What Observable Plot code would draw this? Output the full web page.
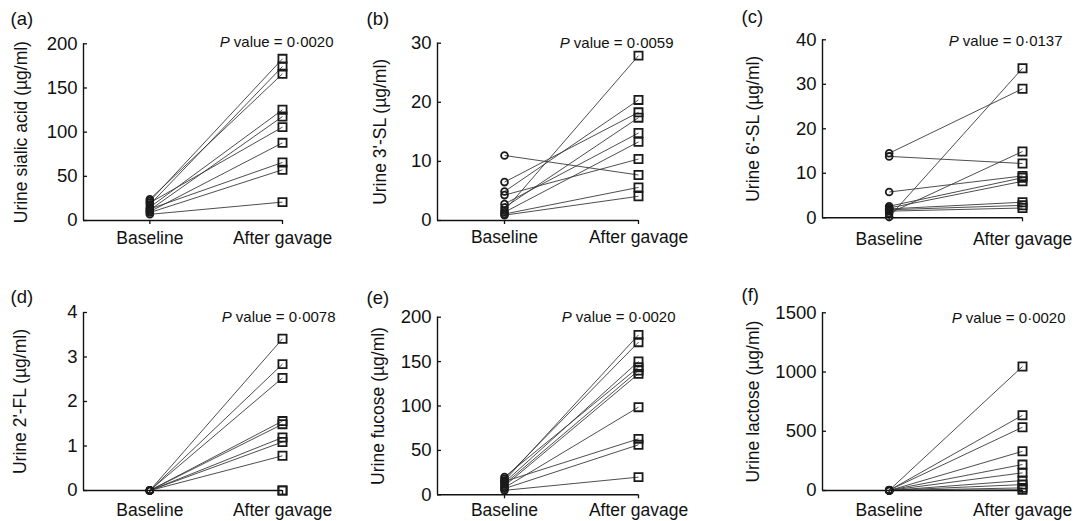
<!DOCTYPE html>
<html><head><meta charset="utf-8">
<script src="https://cdn.jsdelivr.net/npm/d3@7"></script>
<script src="https://cdn.jsdelivr.net/npm/@observablehq/plot@0.6"></script>
<style>
body{margin:0;background:#fff;}
#root{position:relative;width:1075px;height:521px;overflow:hidden;font-family:"Liberation Sans",Arial,sans-serif;background:#fff;}
.panel{position:absolute;}
.plabel{position:absolute;font-size:18.5px;line-height:1;color:#111;}
</style></head><body><div id="root"></div>
<script>
// ---- data ----
const categories = ["Baseline", "After gavage"];
const panelLetters = ["(a)", "(b)", "(c)", "(d)", "(e)", "(f)"];
const yLabels = [
  "Urine sialic acid (\u00b5g/ml)",
  "Urine 3'-SL (\u00b5g/ml)",
  "Urine 6'-SL (\u00b5g/ml)",
  "Urine 2'-FL (\u00b5g/ml)",
  "Urine fucose (\u00b5g/ml)",
  "Urine lactose (\u00b5g/ml)"
];
const pValues = ["0\u00b70020", "0\u00b70059", "0\u00b70137", "0\u00b70078", "0\u00b70020", "0\u00b70020"];

const ticksSialic = [0, 50, 100, 150, 200];
const ticks3SL = [0, 10, 20, 30];
const ticks6SL = [0, 10, 20, 30, 40];
const ticks2FL = [0, 1, 2, 3, 4];
const ticksFucose = [0, 50, 100, 150, 200];
const ticksLactose = [0, 500, 1000, 1500];

const sialicBaseline = [22, 18, 24, 15, 12, 20, 10, 13, 9, 7];
const sialicAfter    = [183, 174.3, 166, 125.3, 117.7, 105.7, 87.9, 65.7, 57.4, 20.8];
const sl3Baseline = [1.7, 4.9, 6.5, 2.2, 2.8, 1.4, 4.3, 11.0, 1.1, 0.9];
const sl3After    = [27.9, 20.4, 18.3, 17.4, 14.8, 13.3, 10.4, 7.7, 5.6, 4.1];
const sl6Baseline = [0.2, 14.5, 1.0, 13.8, 5.8, 2.6, 2.2, 2.0, 1.8, 1.5];
const sl6After    = [33.6, 29.0, 14.9, 12.2, 9.4, 9.0, 8.2, 3.5, 2.8, 2.2];
const fl2Baseline = [0, 0, 0, 0, 0, 0, 0, 0, 0, 0];
const fl2After    = [3.41, 2.84, 2.53, 1.56, 1.49, 1.19, 1.09, 0.78, 0, 0];
const fucoseBaseline = [16, 18, 14, 20, 12, 10, 8, 15, 7, 5];
const fucoseAfter    = [180.1, 171.9, 150.1, 143.7, 140, 136.2, 98.7, 63, 56.3, 19.9];
const lactoseBaseline = [2, 1, 3, 0, 2, 1, 0, 1, 0, 0];
const lactoseAfter    = [1047, 635, 534, 331, 219, 149, 84, 50, 22, 6];

const panelData = [
  {ticks: ticksSialic, base: sialicBaseline, after: sialicAfter},
  {ticks: ticks3SL, base: sl3Baseline, after: sl3After},
  {ticks: ticks6SL, base: sl6Baseline, after: sl6After},
  {ticks: ticks2FL, base: fl2Baseline, after: fl2After},
  {ticks: ticksFucose, base: fucoseBaseline, after: fucoseAfter},
  {ticks: ticksLactose, base: lactoseBaseline, after: lactoseAfter}
];

// ---- layout (page pixels) ----
const layout = [
  {L: 0,   T: 0,   W: 358, H: 255, ml: 83,  mr: 76, mt: 43.3, mb: 35,   lo: 69, tp: 7,  pdx: 51, pdy: -1.6, lx: 10.5, ly: 9.5},
  {L: 358, T: 0,   W: 358, H: 255, ml: 79,  mr: 78, mt: 42.7, mb: 35,   lo: 64, tp: 6,  pdx: 35, pdy: 0.3,  lx: 366.5, ly: 9.5},
  {L: 716, T: 0,   W: 359, H: 255, ml: 106, mr: 53, mt: 39.3, mb: 37.7, lo: 76, tp: 11, pdx: 40, pdy: 1,    lx: 741.5, ly: 8},
  {L: 0,   T: 255, W: 358, H: 266, ml: 83,  mr: 76, mt: 57,   mb: 31,   lo: 70, tp: 9,  pdx: 53, pdy: 4.7,  lx: 10.5, ly: 288},
  {L: 358, T: 255, W: 358, H: 266, ml: 79,  mr: 78, mt: 61.7, mb: 26.7, lo: 66, tp: 5,  pdx: 37, pdy: 0,    lx: 366.5, ly: 289},
  {L: 716, T: 255, W: 359, H: 266, ml: 106, mr: 53, mt: 57.3, mb: 31,   lo: 76, tp: 9,  pdx: 43, pdy: 5,    lx: 741.5, ly: 286}
];

const root = document.getElementById("root");
const font = '"Liberation Sans", Arial, sans-serif';

panelData.forEach((pd, i) => {
  const cfg = layout[i];
  const rows = pd.base.map((b, k) => ({b, a: pd.after[k]}));
  const basePts = pd.base.map(v => ({cat: categories[0], v}));
  const afterPts = pd.after.map(v => ({cat: categories[1], v}));
  const xi = d => categories.indexOf(d.cat);
  const plot = Plot.plot({
    width: cfg.W, height: cfg.H,
    marginLeft: cfg.ml, marginRight: cfg.mr, marginTop: cfg.mt, marginBottom: cfg.mb,
    style: {fontFamily: font, fontSize: "17px", color: "#111", background: "transparent", overflow: "visible"},
    x: {type: "linear", domain: [-0.5, categories.length - 1]},
    y: {type: "linear", domain: [pd.ticks[0], pd.ticks[pd.ticks.length - 1]]},
    marks: [
      Plot.link(rows, {x1: () => 0, x2: () => 1, y1: "b", y2: "a", stroke: "#3a3a3a", strokeWidth: 0.9}),
      Plot.ruleX([-0.5], {stroke: "#111", strokeWidth: 1.4}),
      Plot.ruleY([pd.ticks[0]], {stroke: "#111", strokeWidth: 1.4}),
      Plot.axisY({ticks: pd.ticks, tickSize: -4, tickPadding: 10, tickFormat: d => String(d), fontSize: 18.5,
        label: null, strokeWidth: 1.3}),
      Plot.axisY({ticks: [], label: yLabels[i], labelAnchor: "center", labelArrow: "none", labelOffset: cfg.lo, fontSize: 17.5}),
      Plot.axisX({ticks: categories.map((c, k) => k), tickSize: 4, tickPadding: cfg.tp,
        tickFormat: k => categories[k], label: null, strokeWidth: 1.3, fontSize: 17.5}),
      Plot.dot(basePts, {x: xi, y: "v", r: 3.4, stroke: "#1a1a1a", strokeWidth: 1.8, fill: "none"}),
      Plot.dot(afterPts, {x: xi, y: "v", symbol: "square", r: 4.6, stroke: "#1a1a1a", strokeWidth: 1.8, fill: "none"}),
      Plot.text([pValues[i]], {frameAnchor: "top-right", text: d => "P value = " + d, textAnchor: "end",
        lineAnchor: "middle", dx: cfg.pdx, dy: cfg.pdy, fontSize: 15, fill: "#111"})
    ]
  });
  // italic P
  d3.select(plot).selectAll("text")
    .filter(function() { return this.textContent.startsWith("P value"); })
    .each(function() {
      const t = d3.select(this);
      const s = t.text();
      t.text(null);
      t.append("tspan").attr("font-style", "italic").text(s.slice(0, 1));
      t.append("tspan").text(s.slice(1));
    });
  const div = document.createElement("div");
  div.className = "panel";
  div.style.left = cfg.L + "px";
  div.style.top = cfg.T + "px";
  div.appendChild(plot);
  root.appendChild(div);

  const lab = document.createElement("div");
  lab.className = "plabel";
  lab.style.left = cfg.lx + "px";
  lab.style.top = cfg.ly + "px";
  lab.textContent = panelLetters[i];
  root.appendChild(lab);
});
</script></body></html>
